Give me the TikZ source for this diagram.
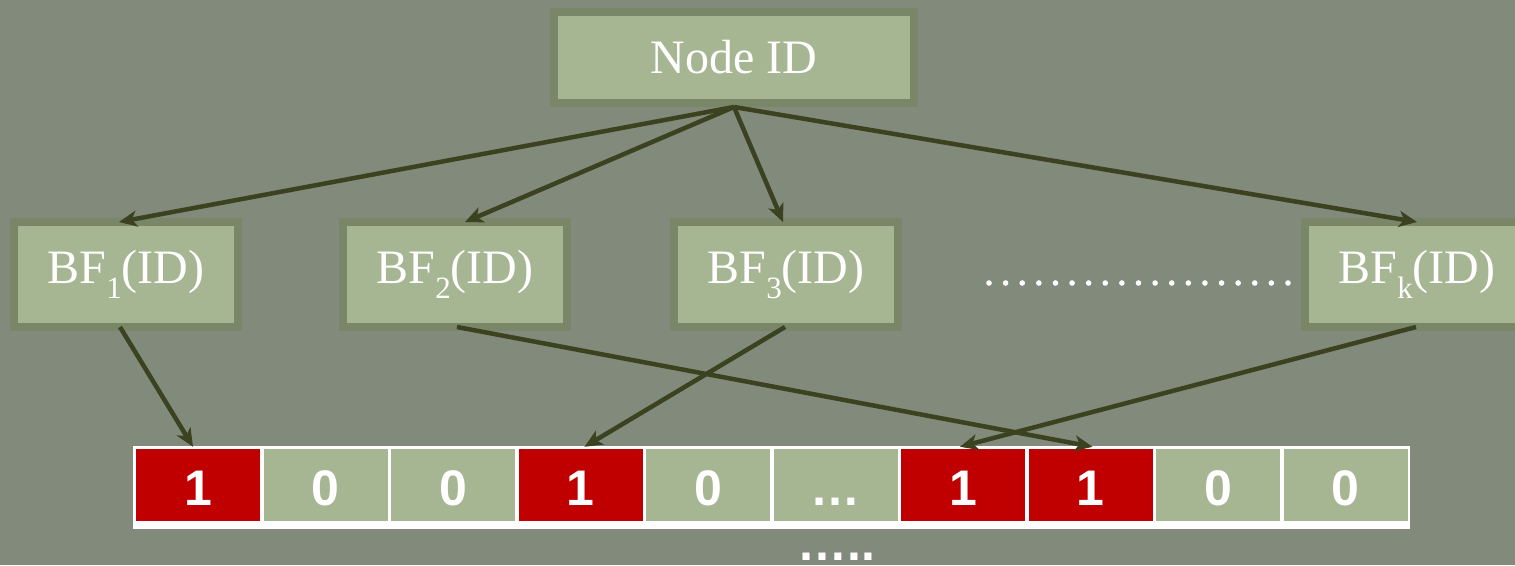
\documentclass[tikz,border=0pt]{standalone}
\usepackage{fontspec}
\setmainfont{Liberation Serif}
\newfontfamily\arialfont{Liberation Sans}
\usetikzlibrary{arrows.meta,calc}
\definecolor{bg}{HTML}{828A7C}
\definecolor{boxfill}{HTML}{A6B592}
\definecolor{boxframe}{HTML}{7A8668}
\definecolor{arrowc}{HTML}{3A4220}
\definecolor{bitred}{HTML}{C00000}
\newcommand\bfsub[1]{\raisebox{-0.3em}{\fontsize{31}{31}\selectfont #1}}
\begin{document}
\begin{tikzpicture}[x=1pt,y=-1pt,
  framebox/.style={draw=boxframe,fill=boxfill,line width=8pt,text=white,
    font=\fontsize{48}{50}\selectfont,inner sep=0pt},
  bfbox/.style={framebox,minimum width=224pt,minimum height=105pt},
  cellbox/.style={minimum width=124pt,minimum height=72pt,inner sep=0pt,draw=none},
  celltext/.style={anchor=base,text=white,font=\arialfont\bfseries\fontsize{50}{50}\selectfont,inner sep=0pt},
  link/.style={draw=arrowc,line width=4.5pt,-{Stealth[length=18pt,width=16pt,inset=5pt]}},
  dotmark/.style={fill=white,draw=none}]
\useasboundingbox (0,0) rectangle (1515,565);
\fill[bg] (0,0) rectangle (1515,565);
\clip (0,0) rectangle (1515,565);

% top node
\node[framebox,minimum width=360pt,minimum height=91pt] (id) at (734,57.5) {Node ID};

% hash boxes
\node[bfbox] (bf1) at (126,274.5) {BF\bfsub{1}(ID)};
\node[bfbox] (bf2) at (455,274.5) {BF\bfsub{2}(ID)};
\node[bfbox] (bf3) at (786,274.5) {BF\bfsub{3}(ID)};
\node[bfbox] (bfk) at (1417,274.5) {BF\bfsub{k}(ID)};

% dotted filler
\foreach \k in {0,...,18} {
  \fill[dotmark] ({989+16.61*\k},283) circle (2.8);
}

% bit array
\fill[white] (133,446) rectangle (1410,529);
\foreach \v/\c [count=\i from 0] in {1/bitred,0/boxfill,0/boxfill,1/bitred,0/boxfill,…/boxfill,1/bitred,1/bitred,0/boxfill,0/boxfill} {
  \node[cellbox,fill=\c] (c\i) at ({198+127.5*\i},485) {};
  \node[celltext] (t\i) at ({198+127.5*\i},505) {\v};
}
\node[celltext] (more) at (836,560) {…..};

% arrows from Node ID
\draw[link] (id.south) -- ($(bf1.north)+(-7,4)$);
\draw[link] (id.south) -- ($(bf2.north)+(10,4)$);
\draw[link] (id.south) -- ($(bf3.north)+(-3,4)$);
\draw[link] (id.south) -- ($(bfk.north)+(0,4)$);

% arrows to bits
\draw[link] ($(bf1.south)+(-6,-4)$) -- ($(c0.north)+(-5,-2)$);
\draw[link] ($(bf2.south)+(2,-4)$) -- ($(c7.north)+(2,-2)$);
\draw[link] ($(bf3.south)+(-1,-4)$) -- ($(c3.north)+(4,-2)$);
\draw[link] ($(bfk.south)+(-1,-4)$) -- ($(c6.north)+(-3,-2)$);
\end{tikzpicture}
\end{document}
